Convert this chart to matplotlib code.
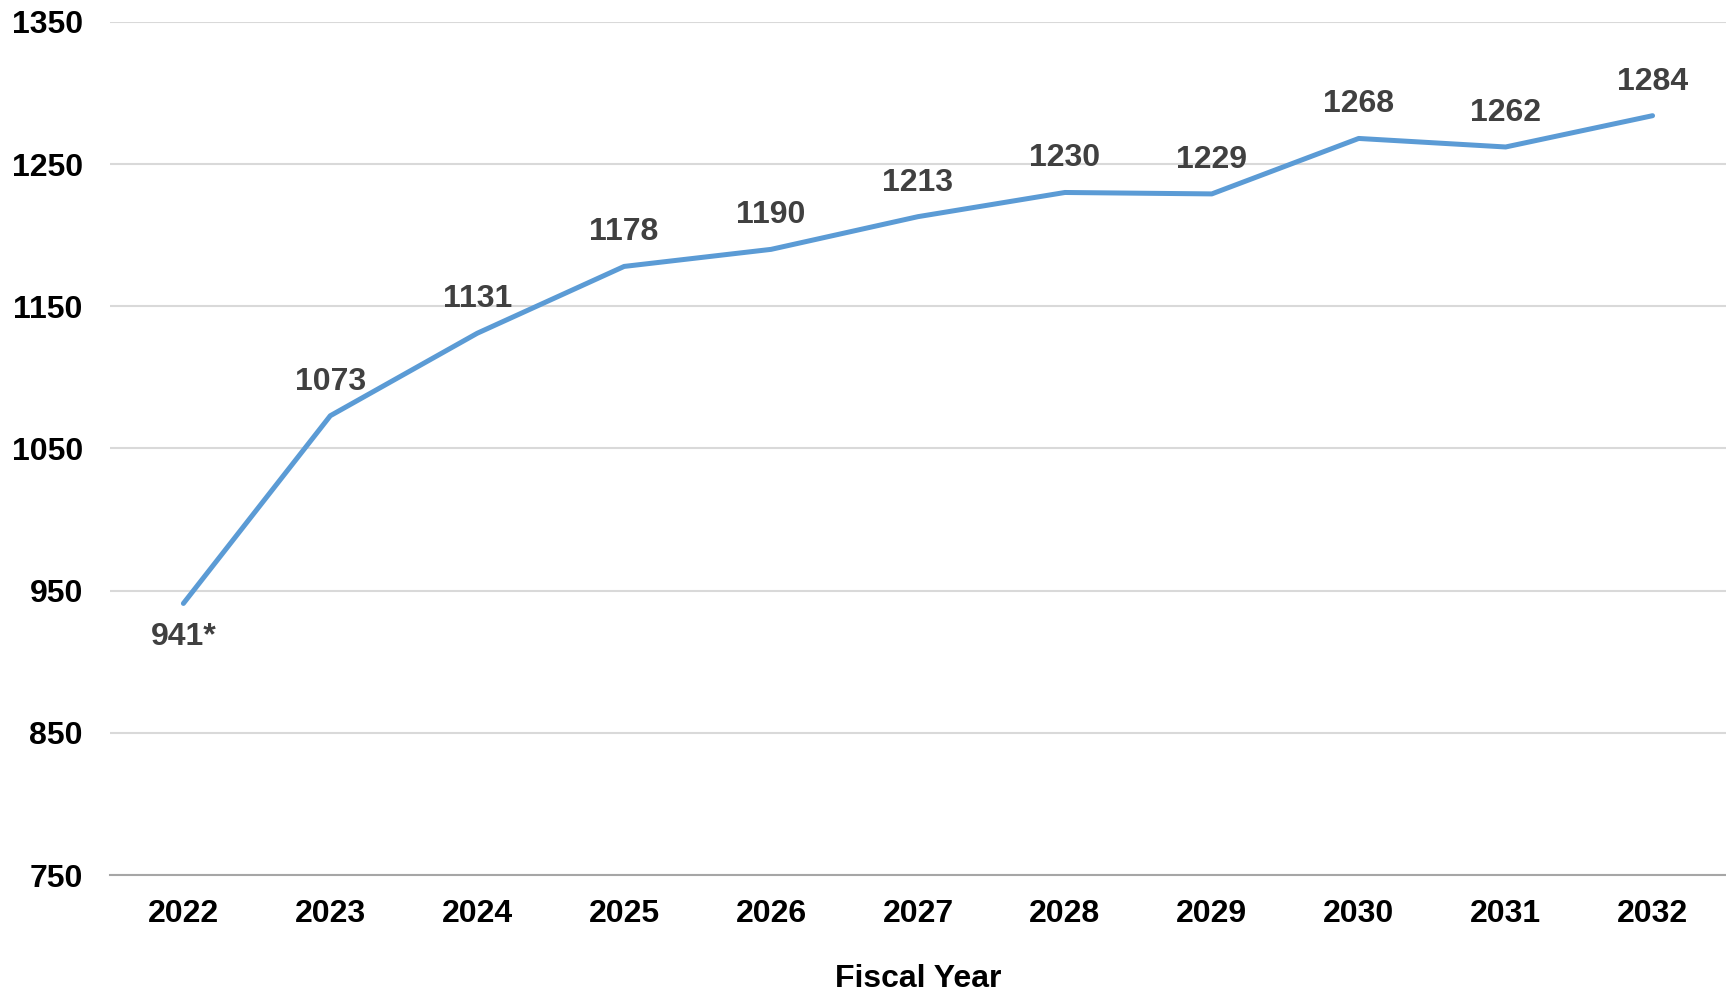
import matplotlib
matplotlib.use("Agg")
import matplotlib.pyplot as plt

# Projected values by fiscal year
years = ["2022", "2023", "2024", "2025", "2026", "2027",
         "2028", "2029", "2030", "2031", "2032"]
values = [941, 1073, 1131, 1178, 1190, 1213, 1230, 1229, 1268, 1262, 1284]
value_labels = ["941*", "1073", "1131", "1178", "1190", "1213",
                "1230", "1229", "1268", "1262", "1284"]
y_ticks = [750, 850, 950, 1050, 1150, 1250, 1350]

plt.rcParams['font.family'] = ['Liberation Sans', 'DejaVu Sans']
plt.rcParams['font.weight'] = 'bold'

fig = plt.figure(figsize=(17.26, 9.93), dpi=100)
ax = fig.add_axes([0.0637, 0.1188, 0.9363, 0.8592])

x = list(range(len(years)))
ax.plot(x, values, color='#5B9BD5', linewidth=3.6, solid_capstyle='round',
        solid_joinstyle='round', zorder=3)

# value labels sit above each point, the first one below
for xi, v, lab in zip(x, values, value_labels):
    dy = -24 if lab.endswith('*') else 24.5
    ax.annotate(lab, (xi, v), xytext=(0, dy), textcoords='offset points',
                ha='center', va='center', fontsize=23, fontweight='bold',
                color='#404040')

ax.set_xlim(-0.5, len(years) - 0.5)
ax.set_ylim(750, 1350)
ax.set_yticks(y_ticks)
ax.set_xticks(x)
ax.set_xticklabels(years)
ax.tick_params(axis='both', length=0, labelsize=23, colors='black')
ax.tick_params(axis='y', pad=19.5)
ax.tick_params(axis='x', pad=17)
for lbl in ax.get_xticklabels() + ax.get_yticklabels():
    lbl.set_fontweight('bold')

ax.grid(axis='y', color='#D9D9D9', linewidth=1.5)
ax.set_axisbelow(True)
for side in ['top', 'right', 'left']:
    ax.spines[side].set_visible(False)
ax.spines['bottom'].set_color('#A6A6A6')
ax.spines['bottom'].set_linewidth(1.5)

ax.set_xlabel('Fiscal Year', fontsize=23, fontweight='bold', labelpad=25.5)

fig.savefig('out.png', dpi=100)
